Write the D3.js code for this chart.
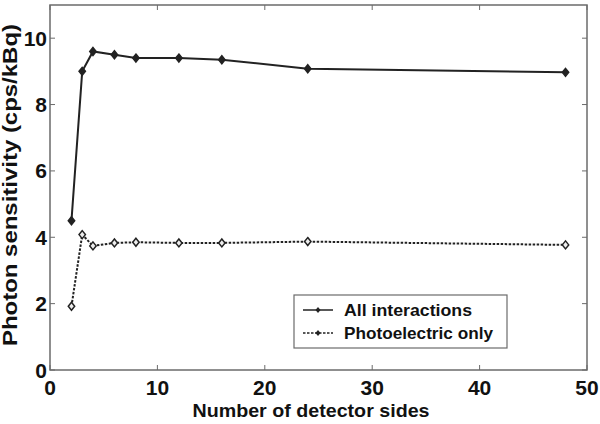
<!DOCTYPE html>
<html>
<head>
<meta charset="utf-8">
<script src="https://cdn.jsdelivr.net/npm/d3@7"></script>
<style>
  body { margin: 0; background: #fff; }
  text { font-family: "Liberation Sans", Arial, sans-serif; font-weight: bold; fill: #111; }
</style>
</head>
<body>
<div id="chart"></div>
<script>
// detector sides
const sides = [2, 3, 4, 6, 8, 12, 16, 24, 48]
// photon sensitivity, all interactions
const allInteractions = [4.5, 9.0, 9.6, 9.5, 9.4, 9.4, 9.35, 9.08, 8.97]
// photon sensitivity, photoelectric only
const photoelectric = [1.92, 4.08, 3.74, 3.83, 3.85, 3.83, 3.83, 3.87, 3.77]
const xTicks = [0, 10, 20, 30, 40, 50]
const yTicks = [0, 2, 4, 6, 8, 10]
const seriesNames = ["All interactions", "Photoelectric only"]

const width = 600, height = 424
const margin = { left: 50, right: 13, top: 5, bottom: 54 }

const svg = d3.select("#chart").append("svg")
  .attr("width", width).attr("height", height)

const x = d3.scaleLinear().domain([0, 50]).range([margin.left, width - margin.right])
const y = d3.scaleLinear().domain([0, 11]).range([height - margin.bottom, margin.top])

// 坐标框
svg.append("rect")
  .attr("x", x(0)).attr("y", y(11))
  .attr("width", x(50) - x(0)).attr("height", y(0) - y(11))
  .attr("fill", "none").attr("stroke", "#6b6b6b").attr("stroke-width", 1.5)

// 刻度（向内）
const tk = 5
xTicks.forEach((t) => {
  svg.append("line").attr("x1", x(t)).attr("x2", x(t)).attr("y1", y(0)).attr("y2", y(0) - tk)
    .attr("stroke", "#6b6b6b")
  svg.append("line").attr("x1", x(t)).attr("x2", x(t)).attr("y1", y(11)).attr("y2", y(11) + tk)
    .attr("stroke", "#6b6b6b")
  svg.append("text").text(t)
    .attr("x", x(t)).attr("y", y(0) + 25)
    .attr("text-anchor", "middle").attr("font-size", 21)
})
yTicks.forEach((t) => {
  svg.append("line").attr("x1", x(0)).attr("x2", x(0) + tk).attr("y1", y(t)).attr("y2", y(t))
    .attr("stroke", "#6b6b6b")
  svg.append("line").attr("x1", x(50)).attr("x2", x(50) - tk).attr("y1", y(t)).attr("y2", y(t))
    .attr("stroke", "#6b6b6b")
  svg.append("text").text(t)
    .attr("x", x(0) - 3).attr("y", y(t)).attr("dy", "0.36em")
    .attr("text-anchor", "end").attr("font-size", 21)
})

// 轴标题
svg.append("text").text("Number of detector sides")
  .attr("x", 311).attr("y", 417)
  .attr("text-anchor", "middle").attr("font-size", 19)
  .attr("textLength", 237).attr("lengthAdjust", "spacingAndGlyphs")
svg.append("text").text("Photon sensitivity (cps/kBq)")
  .attr("transform", `translate(17, 185) rotate(-90)`)
  .attr("text-anchor", "middle").attr("font-size", 20)
  .attr("textLength", 322).attr("lengthAdjust", "spacingAndGlyphs")

// 折线
const line = d3.line().x((d) => x(d[0])).y((d) => y(d[1]))
const series = [
  { name: seriesNames[0], values: sides.map((s, i) => [s, allInteractions[i]]), dash: null, fill: "#222", tl: 128 },
  { name: seriesNames[1], values: sides.map((s, i) => [s, photoelectric[i]]), dash: "2.5,1.5", fill: "#eee", tl: 149 },
]

const diamond = (g, cx, cy, fill) => g.append("path")
  .attr("d", `M${cx},${cy - 4} L${cx + 3.2},${cy} L${cx},${cy + 4} L${cx - 3.2},${cy} Z`)
  .attr("fill", fill).attr("stroke", "#222").attr("stroke-width", 1.5)

series.forEach((s) => {
  svg.append("path")
    .attr("d", line(s.values))
    .attr("fill", "none").attr("stroke", "#222").attr("stroke-width", 2)
    .attr("stroke-dasharray", s.dash)
  const g = svg.append("g")
  s.values.forEach((d) => diamond(g, x(d[0]), y(d[1]), s.fill))
})

// 图例
const lg = svg.append("g").attr("transform", "translate(294, 295)")
lg.append("rect").attr("width", 213).attr("height", 53)
  .attr("fill", "#fff").attr("stroke", "#6b6b6b").attr("stroke-width", 1.2)
series.forEach((s, i) => {
  const yy = 15 + i * 23
  lg.append("line").attr("x1", 9).attr("x2", 39).attr("y1", yy).attr("y2", yy)
    .attr("stroke", "#222").attr("stroke-width", 1.5).attr("stroke-dasharray", s.dash)
  lg.append("path")
    .attr("d", `M24,${yy - 3} L26.5,${yy} L24,${yy + 3} L21.5,${yy} Z`)
    .attr("fill", "#222")
  lg.append("text").text(s.name)
    .attr("x", 50).attr("y", yy).attr("dy", "0.36em").attr("font-size", 17)
    .attr("textLength", s.tl).attr("lengthAdjust", "spacingAndGlyphs")
})
</script>
</body>
</html>
